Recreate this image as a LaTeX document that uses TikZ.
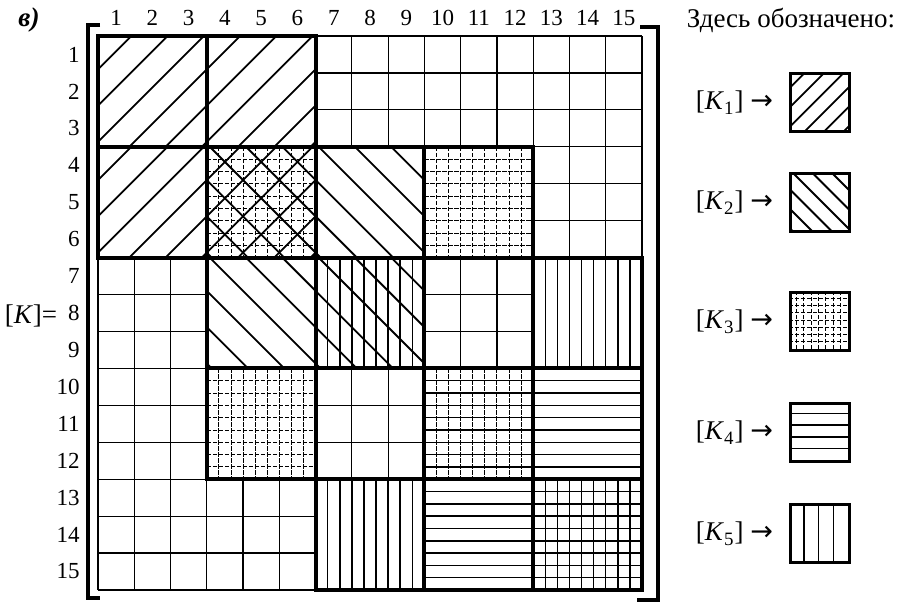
\documentclass[tikz,border=0pt]{standalone}
\usepackage{fontspec}
\setmainfont{Liberation Serif}
\newfontfamily\arrowfont{DejaVu Sans}
\usetikzlibrary{positioning}

% block size in pixel units (3x3 cells)
\newcommand{\bw}{108.8}
\newcommand{\bh}{110.8}

% hatching helpers, local frame (0,0)-(w,h), y pointing down
\newcommand{\slashlines}[3]{%
  \foreach \k in {0,...,7}
    \draw[hatchline] ({\k*#3-3+20},-20) -- ({\k*#3-3-#2-20},{#2+20});}
\newcommand{\backlines}[3]{%
  \foreach \k in {-7,...,7}
    \draw[hatchline] ({\k*#3+3-20},-20) -- ({\k*#3+3+#2+20},{#2+20});}
\newcommand{\vlines}[4]{%
  \foreach \k in {1,...,#3}
    \draw[#4] ({\k*#1/(#3+1)},0) -- ({\k*#1/(#3+1)},#2);}
\newcommand{\hlines}[4]{%
  \foreach \k in {1,...,#3}
    \draw[#4] (0,{\k*#2/(#3+1)}) -- (#1,{\k*#2/(#3+1)});}

\begin{document}
\begin{tikzpicture}[
    x=0.5pt, y=-0.5pt,
    font=\fontsize{13.5}{16}\selectfont,
    num/.style={font=\fontsize{11.5}{13}\selectfont, inner sep=1pt},
    cellline/.style={line width=0.6pt},
    blockframe/.style={line width=2pt},
    hatchline/.style={line width=0.9pt},
    barline/.style={line width=0.75pt},
    fineline/.style={line width=0.45pt, dash pattern=on 2.2pt off 0.8pt},
    bracket/.style={line width=2pt},
    legbox/.style={
        draw, line width=1.7pt,
        inner sep=0pt,
        minimum width=29.5pt,
        minimum height=29pt,
        anchor=north west
    },
    blk/.style 2 args={shift={({98+(#2-1)*108.8},{36+(#1-1)*110.8})}}
]
\useasboundingbox (0,0) rectangle (897,602);

% headings
\node (vlabel) at (29,20) {\textbf{\textit{в)}}};
\node (kname) at (31,316) {[\textit{K}]=};
\node (legtitle) at (791,20) {Здесь обозначено:};

% column and row numbers
\foreach \i in {1,...,15} {
  \node[num] (c\i) at ({98+(\i-0.5)*36.27},18) {\i};
  \node[num, anchor=east] (r\i) at (82,{36+(\i-0.5)*36.93}) {\i};
}

% matrix brackets
\draw[bracket] (100,25) -- (88,25) -- (88,598) -- (100,598);
\draw[bracket] (640,27) -- (658,27) -- (658,600) -- (637,600);

% thin cell grid
\foreach \i in {0,...,15} {
  \draw[cellline] ({98+\i*36.27},36) -- ({98+\i*36.27},590);
  \draw[cellline] (98,{36+\i*36.93}) -- (642,{36+\i*36.93});
}

% white ground of the filled blocks
\foreach \r/\c in {1/1,1/2,2/1,2/2,2/3,2/4,3/2,3/3,3/5,4/2,4/4,4/5,5/3,5/4,5/5}
  \fill[white, blk={\r}{\c}] (0,0) rectangle (\bw,\bh);

% K3: fine dashed grid
\foreach \r/\c in {2/2,2/4,4/2,4/4} {
  \begin{scope}[blk={\r}{\c}]
    \vlines{\bw}{\bh}{8}{fineline}
    \hlines{\bw}{\bh}{8}{fineline}
  \end{scope}
}
% K4: horizontal lines
\foreach \r/\c in {4/4,4/5,5/4,5/5} {
  \begin{scope}[blk={\r}{\c}]
    \hlines{\bw}{\bh}{8}{barline}
  \end{scope}
}
% K5: vertical lines
\foreach \r/\c in {3/3,3/5,5/3,5/5} {
  \begin{scope}[blk={\r}{\c}]
    \vlines{\bw}{\bh}{8}{barline}
  \end{scope}
}
% K1: forward hatching
\foreach \r/\c in {1/1,1/2,2/1,2/2} {
  \begin{scope}[blk={\r}{\c}]
    \clip (0,0) rectangle (\bw,\bh);
    \slashlines{\bw}{\bh}{36.27}
  \end{scope}
}
% K2: backward hatching
\foreach \r/\c in {2/2,2/3,3/2,3/3} {
  \begin{scope}[blk={\r}{\c}]
    \clip (0,0) rectangle (\bw,\bh);
    \backlines{\bw}{\bh}{36.27}
  \end{scope}
}
% block frames
\foreach \r/\c in {1/1,1/2,2/1,2/2,2/3,2/4,3/2,3/3,3/5,4/2,4/4,4/5,5/3,5/4,5/5}
  \draw[blockframe, blk={\r}{\c}] (0,0) rectangle (\bw,\bh);

% legend
\coordinate (kc1) at (789,72);
\coordinate (kc2) at (789,172);
\coordinate (kc3) at (789,291);
\coordinate (kc4) at (789,402);
\coordinate (kc5) at (789,503);

\begin{scope}[shift={(kc1)}]
  \clip (0,0) rectangle (59,58);
  \slashlines{59}{58}{19.5}
\end{scope}
\begin{scope}[shift={(kc2)}]
  \clip (0,0) rectangle (59,58);
  \backlines{59}{58}{19.5}
\end{scope}
\begin{scope}[shift={(kc3)}]
  \vlines{59}{58}{7}{fineline}
  \hlines{59}{58}{7}{fineline}
\end{scope}
\begin{scope}[shift={(kc4)}]
  \hlines{59}{58}{4}{barline}
\end{scope}
\begin{scope}[shift={(kc5)}]
  \vlines{59}{58}{3}{barline}
\end{scope}

\foreach \n in {1,...,5} {
  \node[legbox] (kb\n) at (kc\n) {};
  \node[left=4.5pt of kb\n] (lk\n) {[\textit{K}\textsubscript{\n}] {\arrowfont →}};
}

\end{tikzpicture}
\end{document}
